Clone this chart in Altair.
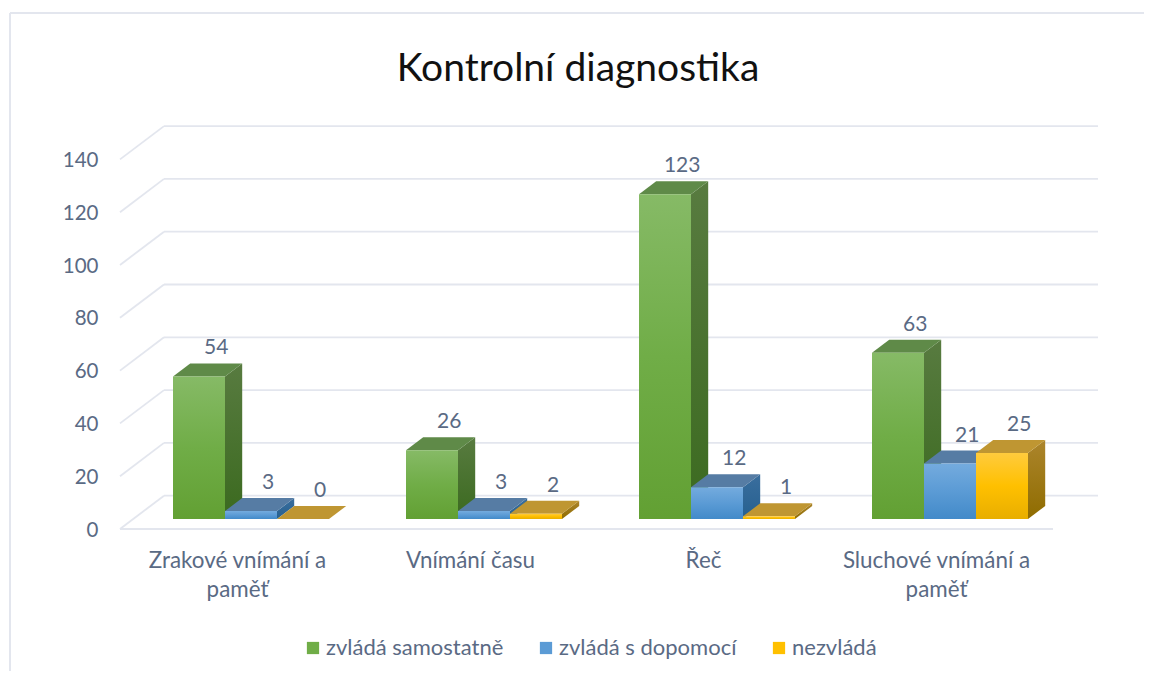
import altair as alt
import pandas as pd

categories = ["Zrakové vnímání a paměť", "Vnímání času", "Řeč", "Sluchové vnímání a paměť"]
series = ["zvládá samostatně", "zvládá s dopomocí", "nezvládá"]
samostatne = [54, 26, 123, 63]
dopomoc = [3, 3, 12, 21]
nezvlada = [0, 2, 1, 25]
ticks = [0, 20, 40, 60, 80, 100, 120, 140]
legend_colors = ["#70AD47", "#5B9BD5", "#FFC000"]
front_stops = [["#86BA66", "#70AD47", "#62A033"], ["#74ABDE", "#5B9BD5", "#428AC9"], ["#FFCB3D", "#FFC000", "#E8AE00"]]
side_stops = [["#587B40", "#3B6A1F"], ["#3A6E9E", "#26608F"], ["#AC852C", "#8F6C00"]]
top_colors = ["#5F8A48", "#567CA4", "#BF9632"]
TEXT = "#5A6A84"
GRID = "#E3E6EE"
FONT = "Lato"

W, H = 1136, 663
PX_Y = 2.64            # pixels per value unit
PX_X = 233.0           # pixels per category
X0, Y0 = 173 - 8, 519 - 8   # plot position of the first bar's foot
BAR_W = 52 / PX_X
DX, DY = 17.2 / PX_X, 13 / PX_Y
x_dom = [-X0 / PX_X, (W - X0) / PX_X]
y_dom = [(Y0 - H) / PX_Y, Y0 / PX_Y]
xs = alt.Scale(domain=x_dom, nice=False, zero=False)
ys = alt.Scale(domain=y_dom, nice=False, zero=False)
LABEL_X = (237 - 173) / PX_X

def u(px):
    return (px - 173) / PX_X

def v(py):
    return (519 - py) / PX_Y

bars, sides, tops = [], [], []
for s, vals in enumerate([samostatne, dopomoc, nezvlada]):
    for c, val in enumerate(vals):
        x = c + s * BAR_W
        key = f"{c}-{s}"
        bars.append(dict(s=s, serie=series[s], bar=key, value=val, x=x, x2=x + BAR_W,
                         lx=x + BAR_W / 2 + DX, ly=val + DY + 15 / PX_Y))
        r = x + BAR_W
        sides += [dict(s=s, bar=key, x=r, lo=0, hi=val), dict(s=s, bar=key, x=r + DX, lo=DY, hi=val + DY)]
        tops += [dict(s=s, bar=key, x=x, lo=val, hi=val),
                 dict(s=s, bar=key, x=x + DX, lo=val, hi=val + DY),
                 dict(s=s, bar=key, x=r, lo=val, hi=val + DY),
                 dict(s=s, bar=key, x=r + DX, lo=val + DY, hi=val + DY)]
bars, sides, tops = pd.DataFrame(bars), pd.DataFrame(sides), pd.DataFrame(tops)

BACK = v(495.7)
FRONT = v(529)
grid_rows = pd.DataFrame([dict(x=u(164), x2=u(1098), y=t + BACK, y2=t + BACK) for t in ticks])
diag_rows = pd.DataFrame([dict(x=u(120), x2=u(164), y=t + FRONT, y2=t + BACK) for t in ticks])
front_row = pd.DataFrame([dict(x=u(120), x2=u(1053), y=FRONT, y2=FRONT)])

def grad(cols):
    n = len(cols) - 1
    return alt.LinearGradient(gradient="linear", x1=0, x2=0, y1=0, y2=1,
                              stops=[alt.GradientStop(color=c, offset=i / n) for i, c in enumerate(cols)])

xlabels = [["Zrakové vnímání a", "paměť"], ["Vnímání času"], ["Řeč"], ["Sluchové vnímání a", "paměť"]]
label_expr = "[" + ",".join("[" + ",".join(f"'{p}'" for p in l) + "]" for l in xlabels) + f"][round(datum.value-{LABEL_X})]"

x_axis = alt.Axis(values=[i + LABEL_X for i in range(4)], labelExpr=label_expr, title=None, domain=False, ticks=False,
                  grid=False, labelFont=FONT, labelFontSize=22.4, labelColor=TEXT, labelLineHeight=29, labelPadding=0,
                  labelBaseline="middle", labelOverlap=False, labelFlush=False, labelLimit=400,
                  offset=-(H + 8 - 560))
y_axis = alt.Axis(values=ticks, title=None, domain=False, ticks=False, grid=False, labelFont=FONT, labelFontSize=20.5,
                  labelColor=TEXT, labelOffset=11, labelPadding=0, offset=-(98 - 8), labelOverlap=False, labelFlush=False)

def X(f):
    return alt.X(f, scale=xs, axis=x_axis)

def Y(f):
    return alt.Y(f, scale=ys, axis=y_axis, stack=None)

def rules(df, width=1.8):
    return alt.Chart(df).mark_rule(color=GRID, strokeWidth=width).encode(
        x=X("x:Q"), x2="x2:Q", y=Y("y:Q"), y2="y2:Q")

frame_top = alt.Chart(pd.DataFrame({"a": [0]})).mark_rule(color=GRID, strokeWidth=2).encode(
    x=alt.value(2), x2=alt.value(W), y=alt.value(5))
frame_left = alt.Chart(pd.DataFrame({"a": [0]})).mark_rule(color=GRID, strokeWidth=2).encode(
    x=alt.value(2), y=alt.value(5), y2=alt.value(H))

layers = [frame_top, frame_left, rules(grid_rows), rules(diag_rows), rules(front_row)]

for s in range(3):
    sd = sides[sides.s == s]
    tp = tops[tops.s == s]
    br = bars[bars.s == s]
    layers.append(alt.Chart(sd).mark_area(orient="vertical", color=grad(side_stops[s])).encode(
        x=X("x:Q"), y=Y("lo:Q"), y2="hi:Q", detail="bar:N"))
    layers.append(alt.Chart(tp).mark_area(orient="vertical", color=top_colors[s]).encode(
        x=X("x:Q"), y=Y("lo:Q"), y2="hi:Q", detail="bar:N"))
    layers.append(alt.Chart(br).mark_rect(color=grad(front_stops[s])).encode(
        x=X("x:Q"), x2="x2:Q", y=Y("value:Q"), y2=alt.Y2(datum=0)))

labels = alt.Chart(bars).mark_text(font=FONT, fontSize=21, color=TEXT, baseline="middle", align="center").encode(
    x=X("lx:Q"), y=Y("ly:Q"), text="value:Q")
layers.append(labels)

legend = alt.Legend(title=None, orient="none", legendX=294, legendY=629, direction="horizontal", columns=3,
                    symbolType="square", symbolSize=150, symbolOpacity=1, symbolStrokeWidth=0, labelLimit=400,
                    labelFont=FONT, labelFontSize=22, labelColor=TEXT, columnPadding=31, labelOffset=2)
legend_layer = alt.Chart(bars).mark_point(filled=True, opacity=0).encode(
    x=X("x:Q"), y=Y("value:Q"),
    color=alt.Color("serie:N", scale=alt.Scale(domain=series, range=legend_colors), legend=legend))
layers.append(legend_layer)

chart = alt.layer(*layers).properties(
    width=W, height=H, padding=0, autosize=alt.AutoSizeParams(type="none"),
    title=alt.TitleParams("Kontrolní diagnostika", font=FONT, fontSize=39, fontWeight="normal", color="#111111",
                          anchor="middle", dx=2, dy=85),
).configure(background="white", view=alt.ViewConfig(stroke=None))

chart.save("out.html", embed_options={"renderer": "svg", "actions": False})
